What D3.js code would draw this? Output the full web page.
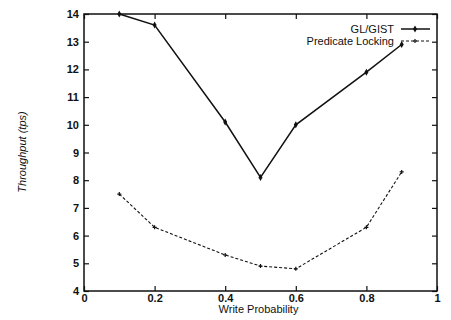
<!DOCTYPE html>
<html>
<head>
<meta charset="utf-8">
<script src="https://cdn.jsdelivr.net/npm/d3@7"></script>
<style>
  body { margin: 0; background: #fff; }
  text { font-family: "Liberation Sans", Arial, sans-serif; fill: #111; }
</style>
</head>
<body>
<script>
// chart size
var w = 451;
var h = 320;

// data
var writeProb = [0.1, 0.2, 0.4, 0.5, 0.6, 0.8, 0.9];
var glGist = [14.0, 13.6, 10.1, 8.1, 10.0, 11.9, 12.9];
var predLocking = [7.5, 6.3, 5.3, 4.9, 4.8, 6.3, 8.3];
var xTicks = [0, 0.2, 0.4, 0.6, 0.8, 1];
var yTicks = [4, 5, 6, 7, 8, 9, 10, 11, 12, 13, 14];
var seriesNames = ["GL/GIST", "Predicate Locking"];

var plotLeft = 84, plotRight = 437, plotTop = 14, plotBottom = 291;

var svg = d3.select("body")
            .append("svg")
            .attr("width", w)
            .attr("height", h);

var x = d3.scaleLinear().domain([0, 1]).range([plotLeft, plotRight]);
var y = d3.scaleLinear().domain([4, 14]).range([plotBottom, plotTop]);

// frame
svg.append("rect")
  .attr("x", plotLeft)
  .attr("y", plotTop)
  .attr("width", plotRight - plotLeft)
  .attr("height", plotBottom - plotTop)
  .attr("fill", "none")
  .attr("stroke", "#111")
  .attr("stroke-width", 1.5);

// axes (gnuplot style: ticks inside, mirrored)
var tickLen = 5;
var xAxis = d3.axisBottom(x).tickValues(xTicks).tickSize(-tickLen).tickPadding(3)
  .tickFormat(function(d) { return d3.format("~g")(d); });
var yAxis = d3.axisLeft(y).tickValues(yTicks).tickSize(-tickLen).tickPadding(5);

var gx = svg.append("g").attr("transform", "translate(0," + plotBottom + ")").call(xAxis);
var gy = svg.append("g").attr("transform", "translate(" + plotLeft + ",0)").call(yAxis);
[gx, gy].forEach(function(g) {
  g.select(".domain").remove();
  g.selectAll("line").attr("stroke", "#111").attr("stroke-width", 1.2);
  g.selectAll("text").attr("font-size", "11px").attr("font-weight", "bold").attr("fill", "#111");
});

// mirrored ticks
svg.append("g").attr("transform", "translate(0," + plotTop + ")")
  .call(d3.axisTop(x).tickValues(xTicks).tickSize(-tickLen).tickFormat(""))
  .call(function(g) { g.select(".domain").remove(); g.selectAll("line").attr("stroke", "#111").attr("stroke-width", 1.2); });
svg.append("g").attr("transform", "translate(" + plotRight + ",0)")
  .call(d3.axisRight(y).tickValues(yTicks).tickSize(-tickLen).tickFormat(""))
  .call(function(g) { g.select(".domain").remove(); g.selectAll("line").attr("stroke", "#111").attr("stroke-width", 1.2); });

// axis titles
svg.append("text")
  .attr("x", (plotLeft + plotRight) / 2 - 2)
  .attr("y", 313)
  .attr("text-anchor", "middle")
  .attr("font-size", "11px")
  .text("Write Probability");

svg.append("text")
  .attr("transform", "translate(26," + 152 + ") rotate(-90)")
  .attr("text-anchor", "middle")
  .attr("font-size", "11px")
  .attr("font-style", "italic")
  .text("Throughput (tps)");

// lines
var line = d3.line()
  .x(function(d) { return x(d[0]); })
  .y(function(d) { return y(d[1]); });

var series = [
  { name: seriesNames[0], values: d3.zip(writeProb, glGist), dash: null, width: 1.5 },
  { name: seriesNames[1], values: d3.zip(writeProb, predLocking), dash: "3,2", width: 1.1 }
];

series.forEach(function(s, i) {
  svg.append("path")
    .datum(s.values)
    .attr("d", line)
    .attr("fill", "none")
    .attr("stroke", "#111")
    .attr("stroke-width", s.width)
    .attr("stroke-dasharray", s.dash);

  if (i === 0) {
    svg.selectAll(".pt" + i)
      .data(s.values)
      .enter()
      .append("path")
      .attr("class", "pt" + i)
      .attr("d", d3.symbol().type(d3.symbolDiamond).size(14))
      .attr("transform", function(d) { return "translate(" + x(d[0]) + "," + y(d[1]) + ")"; })
      .attr("fill", "#111");
  } else {
    svg.selectAll(".pt" + i)
      .data(s.values)
      .enter()
      .append("path")
      .attr("class", "pt" + i)
      .attr("d", "M-2,0H2M0,-2V2")
      .attr("transform", function(d) { return "translate(" + x(d[0]) + "," + y(d[1]) + ")"; })
      .attr("stroke", "#111")
      .attr("stroke-width", 1.2);
  }

  // legend
  var ly = 29 + i * 12;
  svg.append("text")
    .attr("x", 394)
    .attr("y", ly + 4)
    .attr("text-anchor", "end")
    .attr("font-size", "11px")
    .text(s.name);
  svg.append("line")
    .attr("x1", 401).attr("x2", 430)
    .attr("y1", ly).attr("y2", ly)
    .attr("stroke", "#111")
    .attr("stroke-width", s.width)
    .attr("stroke-dasharray", s.dash);
  if (i === 0) {
    svg.append("path")
      .attr("d", d3.symbol().type(d3.symbolDiamond).size(14))
      .attr("transform", "translate(415," + ly + ")")
      .attr("fill", "#111");
  } else {
    svg.append("path")
      .attr("d", "M-2,0H2M0,-2V2")
      .attr("transform", "translate(415," + ly + ")")
      .attr("stroke", "#111")
      .attr("stroke-width", 1.2);
  }
});
</script>
</body>
</html>
